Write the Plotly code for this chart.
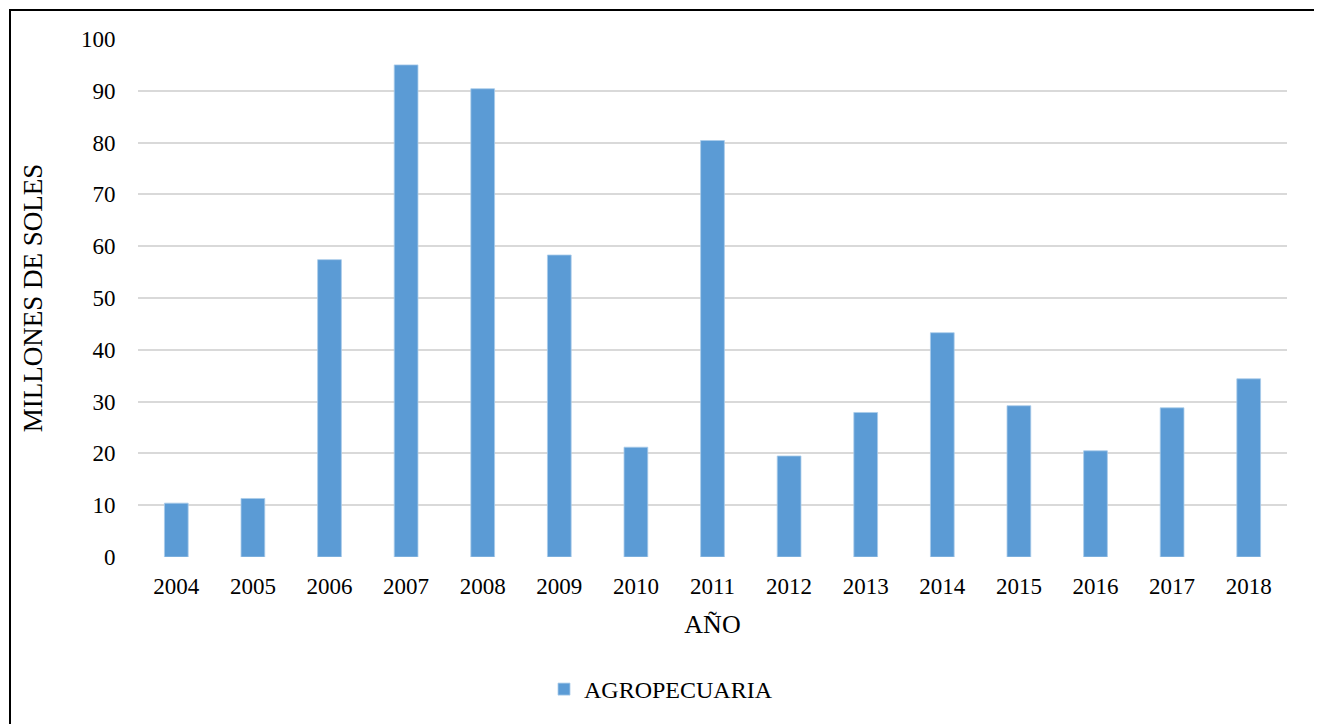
import plotly.graph_objects as go

years = ["2004", "2005", "2006", "2007", "2008", "2009", "2010", "2011",
         "2012", "2013", "2014", "2015", "2016", "2017", "2018"]
agropecuaria = [10.4, 11.3, 57.4, 95.0, 90.4, 58.3, 21.2, 80.4,
                19.5, 27.9, 43.3, 29.2, 20.5, 28.8, 34.4]
y_ticks = [0, 10, 20, 30, 40, 50, 60, 70, 80, 90, 100]

FONT = "Liberation Serif, Times New Roman, serif"

fig = go.Figure()
fig.add_trace(go.Bar(
    x=years, y=agropecuaria, name="AGROPECUARIA",
    marker=dict(color="#5B9BD5", line=dict(color="#A9CBEA", width=0.8)),
    width=0.31,
))

OFF = 8  # page body margin
L, R, T, B = 138 - OFF, 35, 39 - OFF, 165
W, H = 1322 - OFF, 724 - OFF
pw, ph = W - L - R, H - T - B
px0, py0 = 138, 559  # absolute plot origin (left, bottom)

fig.update_layout(
    width=W, height=H,
    margin=dict(l=L, r=R, t=T, b=B),
    paper_bgcolor="white", plot_bgcolor="white",
    font=dict(family=FONT, color="black", size=22),
    showlegend=True,
    legend=dict(orientation="h", x=(544 - px0) / pw, xanchor="left",
                y=(py0 - 692) / ph, yanchor="middle",
                font=dict(size=24, family=FONT)),
    bargap=0.69,
)
fig.update_xaxes(
    type="category", showgrid=False, showline=False, zeroline=False,
    ticks="outside", ticklen=8, tickcolor="rgba(0,0,0,0)",
    tickfont=dict(size=23, family=FONT),
    title=dict(text="AÑO", font=dict(size=26, family=FONT), standoff=17),
)
fig.update_yaxes(
    range=[0, 100], tickvals=y_ticks, showgrid=True, gridcolor="#D9D9D9",
    gridwidth=1.5, zeroline=False, showline=False,
    ticks="outside", ticklen=17, tickcolor="rgba(0,0,0,0)",
    tickfont=dict(size=23, family=FONT),
    title=dict(text="MILLONES DE SOLES", font=dict(size=27, family=FONT), standoff=30),
)
fig.add_shape(type="rect", xref="paper", yref="paper",
              x0=(10 - px0) / pw, x1=(1316 - px0) / pw,
              y0=(py0 - 740) / ph, y1=(py0 - 10) / ph,
              line=dict(color="black", width=2), fillcolor="rgba(0,0,0,0)",
              layer="above")

fig.write_html("out.html")
